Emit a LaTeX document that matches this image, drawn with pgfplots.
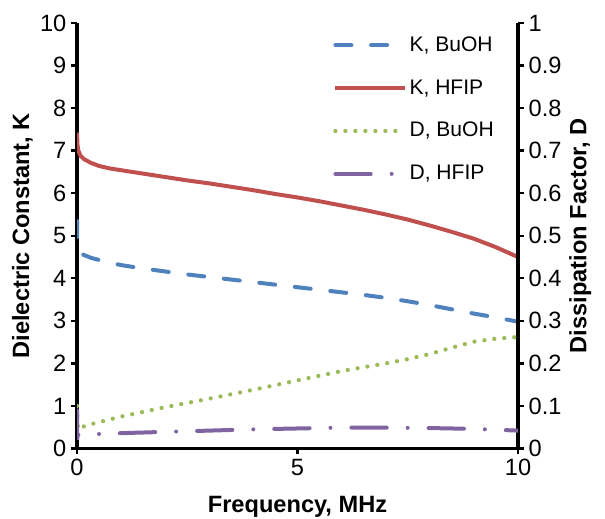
\documentclass[border=0pt]{standalone}
\usepackage{fontspec}
\setmainfont{Liberation Sans}
\usepackage{pgfplots}
\pgfplotsset{compat=1.18}

\definecolor{cblue}{HTML}{4F81BD}
\definecolor{cred}{HTML}{C0504D}
\definecolor{cgreen}{HTML}{9BBB59}
\definecolor{cpurple}{HTML}{8064A2}

\pgfplotsset{
  common/.style={
    scale only axis, width=330.75pt, height=319.1pt,
    xmin=0, xmax=10, clip=true,
    tick align=outside,
    major tick length=4.5pt,
    axis line style={line width=2.4pt, black},
    major tick style={line width=1.8pt, black},
    tick label style={font=\fontsize{17.7}{21}\selectfont, black},
    label style={font=\bfseries\fontsize{17.7}{21}\selectfont},
    /pgf/number format/assume math mode=true,
  },
  legend image code/.code={\draw[mark repeat=2,mark phase=2]
    plot coordinates {(0pt,0pt)(26pt,0pt)(52pt,0pt)};},
}

\begin{document}
\begin{tikzpicture}
\begin{axis}[common, name=k,
  ymin=0, ymax=10,
  axis x line*=bottom, axis y line*=left,
  xtick={0,5,10}, ytick={0,1,2,3,4,5,6,7,8,9,10},
  xlabel={Frequency, MHz},
  ylabel={Dielectric Constant, K},
  xlabel style={at={(axis description cs:0.5,-0.136)}, anchor=center},
  ylabel style={at={(axis description cs:-0.124,0.5)}, anchor=center},
]
% K, BuOH
\addplot[cblue, line width=3pt, line cap=round, dash pattern=on 12pt off 14.8pt] coordinates {
(0,5.35)(0.005,5.0)(0.01,4.8)(0.05,4.65)(0.15,4.55)(0.32,4.48)(0.68,4.38)
(1,4.31)(1.5,4.23)(2,4.16)(2.5,4.09)(3,4.03)(3.5,3.97)(4,3.91)(4.5,3.85)
(5,3.79)(5.5,3.73)(6,3.67)(6.5,3.61)(7,3.54)(7.5,3.46)(8,3.37)(8.5,3.27)
(9,3.17)(9.5,3.08)(10,2.98)};
% K, HFIP
\addplot[cred, line width=3pt] coordinates {
(0,7.42)(0.01,7.15)(0.03,7.0)(0.08,6.88)(0.16,6.8)(0.3,6.72)(0.5,6.64)
(0.75,6.58)(1,6.54)(1.5,6.46)(2,6.38)(2.5,6.3)(3,6.23)(3.5,6.15)(4,6.07)
(4.5,5.98)(5,5.9)(5.5,5.81)(6,5.71)(6.5,5.61)(7,5.5)(7.5,5.38)(8,5.24)
(8.5,5.09)(9,4.93)(9.5,4.73)(10,4.5)};
\end{axis}

\begin{axis}[common,
  ymin=0, ymax=1,
  axis x line=none, axis y line*=right,
  ytick={0,0.1,0.2,0.3,0.4,0.5,0.6,0.7,0.8,0.9,1},
  yticklabel style={/pgf/number format/fixed, /pgf/number format/precision=1},
  ylabel={Dissipation Factor, D},
  ylabel style={at={(axis description cs:1.141,0.5)}, anchor=center, rotate=0},
  legend style={draw=none, fill=none, at={(axis description cs:0.5805,0.98)},
    anchor=north west, inner xsep=0pt, inner ysep=0pt,
    font=\fontsize{15.8}{19}\selectfont, row sep=12.2pt,
    nodes={text height=12.5pt, text depth=3.5pt, inner sep=2pt}},
  legend cell align=left,
]
\addlegendimage{cblue, line width=3pt, line cap=round, dash pattern=on 12pt off 14.8pt}
\addlegendentry{K, BuOH}
\addlegendimage{cred, line width=3pt}
\addlegendentry{K, HFIP}
% D, BuOH
\addplot[cgreen, line width=3.2pt, line cap=round, dash pattern=on 0pt off 7.5pt] coordinates {
(0,0.1)(0.02,0.045)(0.2,0.054)(1,0.075)(2,0.097)(3,0.117)(4,0.138)(5,0.16)
(6,0.182)(7,0.2)(7.5,0.21)(8,0.222)(8.5,0.237)(9,0.251)(9.5,0.258)(10,0.262)};
\addlegendentry{D, BuOH}
% D, HFIP
\addplot[cpurple, line width=3pt, line cap=round, dash pattern=on 26.5pt off 15.7pt on 0pt off 15.7pt] coordinates {
(0,0.09)(0.003,0.02)(0.01,0.03)(0.05,0.034)(0.5,0.034)(1,0.036)(2,0.039)
(3,0.042)(4,0.045)(5,0.047)(6,0.049)(7,0.049)(8,0.048)(9,0.046)(10,0.042)};
\addlegendentry{D, HFIP}
\end{axis}
\pgfresetboundingbox
\path[use as bounding box] ([xshift=-57.75pt,yshift=-52.5pt]k.south west)
  rectangle ([xshift=65.25pt,yshift=17.25pt]k.north east);
\end{tikzpicture}
\end{document}
